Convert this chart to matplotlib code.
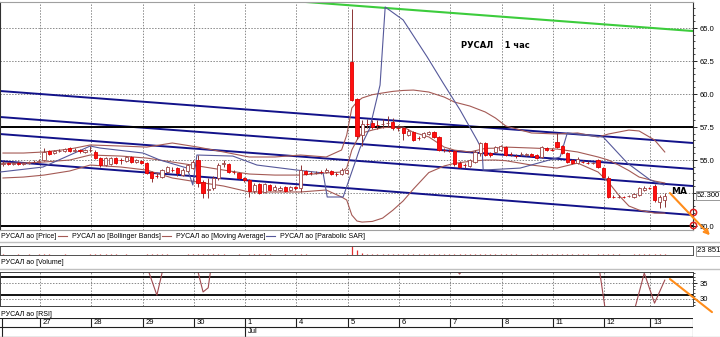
import matplotlib
matplotlib.use('Agg')
import matplotlib.pyplot as plt
import numpy as np
from matplotlib.lines import Line2D
import matplotlib.transforms as mtransforms

plt.rcParams['font.family'] = ['Liberation Sans Narrow', 'Liberation Sans', 'DejaVu Sans']

# ---- hourly candles, bar index 0 = first bar of the 27th ----
bars = list(range(-8, 122))
opens = [54.70, 54.77, 54.70, 54.77, 54.70, 54.77, 54.85, 54.85,
         55.00, 55.68, 55.53, 55.68, 55.68, 55.91, 55.68, 55.74, 55.61, 55.76,
         55.61, 55.15, 54.62, 54.70, 55.15, 55.00, 54.92, 55.23, 54.85, 54.92,
         54.77, 54.09, 53.79, 53.71, 54.09, 54.24, 54.39, 53.86, 54.17, 54.39,
         55.00, 53.33, 52.73, 52.88, 53.64, 54.70, 54.70, 54.09, 54.02, 53.64,
         53.48, 52.65, 53.18, 52.58, 53.11, 52.73, 52.73, 52.95, 52.73, 52.95,
         52.88, 54.17, 54.02, 54.02, 54.09, 54.09, 54.17, 53.94, 53.94, 54.02,
         62.42, 59.62, 56.89, 57.73, 57.80, 57.65, 57.73, 57.80, 57.88, 57.42,
         57.42, 56.89, 57.12, 56.67, 56.74, 56.97, 57.12, 56.74, 55.76, 55.68,
         55.68, 54.77, 54.62, 54.55, 54.85, 55.53, 56.29, 55.53, 55.61, 55.76,
         55.98, 55.45, 55.30, 55.45, 55.38, 55.45, 55.38, 55.23, 55.91, 55.76,
         56.36, 56.06, 55.53, 55.00, 54.77, 54.85, 54.77, 54.77, 55.00, 54.39,
         53.64, 52.20, 52.20, 52.20, 52.27, 52.20, 52.35, 52.73, 52.88,
         53.03, 51.82, 51.97]
highs = [54.92, 54.85, 54.85, 54.92, 54.85, 54.92, 55.00, 55.08,
         55.91, 55.76, 55.76, 55.83, 55.91, 55.98, 55.91, 55.83, 55.83, 56.06,
         55.76, 55.23, 55.23, 55.23, 55.23, 55.15, 55.30, 55.30, 55.08, 55.00,
         54.85, 54.17, 54.02, 54.32, 54.55, 54.47, 54.47, 54.39, 54.70, 55.00,
         55.38, 53.48, 53.64, 53.79, 54.77, 55.00, 54.77, 54.24, 54.09, 53.71,
         53.56, 53.26, 53.26, 53.26, 53.18, 53.11, 53.03, 53.03, 53.03, 53.03,
         54.62, 54.24, 54.17, 54.17, 54.24, 54.39, 54.24, 54.09, 54.39, 54.32,
         66.44, 59.70, 58.03, 58.11, 58.03, 58.03, 58.11, 58.33, 58.18, 57.65,
         57.50, 57.35, 57.20, 56.82, 57.12, 57.20, 57.20, 56.82, 55.91, 55.83,
         55.76, 54.92, 54.77, 55.08, 55.76, 56.36, 56.36, 55.61, 56.06, 56.14,
         56.06, 55.61, 55.45, 55.61, 55.53, 55.53, 55.45, 56.06, 55.98, 55.91,
         57.05, 56.14, 55.61, 55.08, 55.23, 55.00, 54.92, 54.85, 55.08, 54.47,
         53.79, 52.35, 52.35, 52.27, 52.35, 52.50, 52.95, 53.03, 52.95,
         53.18, 52.35, 52.50]
lows = [54.55, 54.62, 54.62, 54.62, 54.62, 54.70, 54.77, 54.77,
        54.92, 55.38, 55.45, 55.61, 55.61, 55.61, 55.61, 55.53, 55.53, 55.61,
        55.08, 54.47, 54.55, 54.62, 54.70, 54.70, 54.85, 54.77, 54.77, 54.70,
        53.94, 53.33, 53.64, 53.64, 54.02, 54.09, 53.79, 53.79, 54.09, 54.32,
        52.95, 52.12, 52.12, 52.73, 53.48, 54.47, 54.02, 53.94, 53.56, 53.33,
        52.20, 52.50, 52.42, 52.50, 52.65, 52.65, 52.65, 52.58, 52.65, 52.73,
        52.58, 53.86, 53.86, 53.94, 53.94, 54.02, 53.86, 53.79, 53.86, 53.94,
        59.50, 56.59, 56.06, 57.42, 57.35, 57.35, 57.42, 57.50, 57.27, 57.20,
        56.52, 56.82, 56.44, 56.52, 56.67, 56.89, 56.67, 55.68, 55.61, 55.61,
        54.55, 54.39, 54.39, 54.47, 54.77, 55.30, 55.30, 55.23, 55.53, 55.68,
        55.30, 55.30, 55.15, 55.30, 55.30, 55.23, 55.08, 55.15, 55.68, 55.68,
        55.91, 55.45, 54.77, 54.70, 54.70, 54.77, 54.70, 54.70, 54.39, 53.64,
        52.12, 52.12, 52.12, 52.12, 52.20, 52.12, 52.27, 52.65, 52.80,
        51.82, 51.36, 51.44]
closes = [54.77, 54.70, 54.77, 54.70, 54.77, 54.85, 54.87, 54.92,
          55.61, 55.45, 55.68, 55.70, 55.83, 55.68, 55.74, 55.70, 55.76, 55.76,
          55.15, 54.62, 55.15, 55.15, 54.77, 54.98, 55.23, 54.85, 55.00, 54.77,
          54.02, 53.64, 53.77, 54.24, 54.47, 54.22, 54.02, 54.24, 54.62, 54.85,
          53.26, 52.50, 52.80, 53.64, 54.62, 54.77, 54.09, 54.07, 53.64, 53.48,
          52.65, 53.11, 52.50, 53.18, 52.73, 52.95, 52.88, 52.65, 52.95, 52.88,
          54.24, 53.94, 54.00, 54.04, 54.07, 54.24, 53.94, 53.92, 54.24, 54.24,
          59.55, 56.82, 57.73, 57.71, 57.50, 57.63, 57.75, 57.82, 57.42, 57.40,
          57.05, 57.20, 56.52, 56.65, 57.05, 57.12, 56.74, 55.76, 55.74, 55.66,
          54.70, 54.47, 54.60, 55.00, 55.61, 56.29, 55.38, 55.38, 55.98, 56.06,
          55.38, 55.43, 55.28, 55.47, 55.45, 55.30, 55.15, 55.98, 55.76, 55.74,
          55.98, 55.53, 54.85, 54.77, 55.08, 54.83, 54.75, 54.79, 54.47, 53.71,
          52.20, 52.18, 52.22, 52.18, 52.29, 52.42, 52.88, 52.88, 52.86,
          51.97, 52.20, 52.30]
volume = [1400, 1100, 900, 1300, 1000, 1200, 900, 1600,
          2600, 1500, 1100, 900, 1300, 1000, 900, 800, 1100, 1200,
          2400, 2000, 1500, 1300, 1200, 900, 1400, 1100, 900, 1000,
          2800, 2200, 1300, 1500, 1400, 900, 1100, 1000, 1300, 1500,
          3000, 2400, 1800, 1600, 2000, 1200, 1100, 900, 1300, 1100,
          2600, 1900, 1500, 1700, 1200, 1000, 1100, 1300, 900, 1200,
          2900, 1400, 1000, 900, 800, 900, 1000, 1100, 900, 1300,
          180000, 11000, 5200, 2600, 2400, 1900, 1800, 2500, 2100, 1700,
          2600, 1800, 2200, 1400, 1500, 1300, 1600, 2400, 1800, 1500,
          2500, 1900, 1600, 2100, 2600, 2800, 1900, 1500, 2200, 1700,
          2000, 1500, 1200, 1100, 1000, 1200, 1300, 2300, 1400, 1300,
          2600, 1900, 2400, 1700, 1500, 1300, 1200, 1100, 1700, 2600,
          3000, 1300, 1200, 1100, 1000, 1500, 2100, 1400, 1200,
          2800, 2600, 2385]

# Bollinger bands / moving average, sampled along the bars
bb_x = [-8, -4, 0, 5, 9, 15, 20, 25, 30, 35, 40, 45, 50, 55, 58, 59, 60, 61, 62, 64,
        66, 68, 70, 72, 75, 78, 80, 83, 86, 88, 90, 95, 100, 104, 108, 110, 112, 114,
        116, 119, 121]
bb_upper = [55.53, 55.53, 55.61, 55.83, 56.14, 56.06, 55.98, 56.29, 55.98, 55.61, 55.23,
            55.23, 55.38, 55.23, 55.76, 56.89, 58.94, 59.40, 59.70, 59.95, 60.08, 60.20,
            60.27, 60.30, 60.15, 59.77, 59.39, 59.09, 58.64, 58.18, 57.58, 57.05, 56.97,
            57.05, 56.74, 56.97, 57.12, 57.27, 57.20, 56.52, 55.61]
bb_lower = [53.64, 53.71, 53.86, 54.17, 54.62, 54.47, 54.24, 53.64, 53.33, 53.03, 52.58,
            52.58, 52.58, 52.73, 52.20, 51.97, 50.83, 50.38, 50.30, 50.35, 50.60, 51.20,
            51.90, 52.80, 54.05, 54.55, 54.75, 54.90, 55.00, 55.00, 54.95, 54.62, 54.39,
            54.77, 54.09, 53.33, 52.35, 51.52, 51.21, 50.98, 50.98]
ma_vals = [54.77, 54.77, 54.85, 55.00, 55.38, 55.30, 55.15, 54.85, 54.55, 54.24, 53.94,
           53.86, 53.86, 54.02, 54.09, 54.39, 55.76, 56.52, 57.05, 57.27, 57.45, 57.50,
           57.50, 57.10, 56.75, 55.98, 55.75, 55.61, 55.88, 55.90, 55.98, 55.91, 55.83,
           55.61, 55.23, 55.00, 54.62, 54.20, 53.71, 53.41, 53.26]

# Parabolic SAR
sar_x = [-8.6, -0.2, 9.0, 10.9, 19.3, 22.6, 27.9, 29.0, 29.8, 36.8, 41.5, 49.3, 54.4,
         55.2, 58.3, 61.6, 63.5, 65.5, 66.5, 70.0, 74.7, 77.8, 81.1, 84.4, 85.4, 85.6,
         92.8, 100.6, 102.0, 109.0, 113.7, 118.2, 120.8]
sar_vals = [54.09, 54.47, 56.06, 55.91, 55.53, 55.00, 54.39, 53.11, 55.38, 55.30, 54.62,
            54.24, 54.02, 52.20, 52.20, 55.91, 57.42, 60.68, 66.59, 65.61, 62.80, 60.83,
            58.79, 56.52, 55.76, 54.24, 54.39, 55.23, 57.05, 56.74, 54.77, 53.48, 53.11]

# RSI (only the parts inside the narrow window are visible)
rsi_x = [-8, 19, 22, 24, 29, 31, 32, 33, 80, 81, 82, 108, 110, 114, 117, 119, 121]
rsi_vals = [45, 45, 31.2, 45, 45, 32.2, 33.5, 45, 40, 37.8, 40, 42, 20, 20, 38.1, 28.7, 35.9]

# drawn trend lines (start / end of the visible window)
trend_x = [-8.58, 126.5]
trend_lines = [[60.23, 56.29], [58.26, 54.32], [56.97, 53.03], [54.92, 50.83]]
green_x = [48, 126.5]
green_vals = [67.06, 64.77]
level_lines = [57.5, 50.0]
circle_vals = [51.06, 50.08]
arrow_price = [(122.0, 52.5), (129.8, 49.3)]
arrow_rsi = [(122.0, 36.25), (130.2, 25.9)]

day_start = [0, 10, 20, 30, 40, 50, 60, 70, 80, 90, 100, 110, 119]
day_labels = ['27', '28', '29', '30', '1', '4', '5', '6', '7', '8', '11', '12', '13']
last_price = 52.30

W, H = 720, 337
fig = plt.figure(figsize=(W / 100, H / 100), dpi=100)


def add_px(x0, y0, x1, y1):
    return fig.add_axes([x0 / W, 1 - y1 / H, (x1 - x0) / W, (y1 - y0) / H])


XL = (-8.58, 126.5)
bounds = [d - 0.8 for d in day_start]
grid_kw = dict(color='#8a8a8a', lw=0.7, ls=(0, (1.5, 1.5)))

# ---------------- main price panel ----------------
ax = add_px(0, 2, 693, 230)
ax.set_xlim(*XL)
ax.set_ylim(49.70, 66.97)
for b in bounds:
    ax.axvline(b, zorder=0, **grid_kw)
for g in [50, 52.5, 55, 57.5, 60, 62.5, 65]:
    ax.axhline(g, zorder=0, **grid_kw)

for tl in trend_lines:
    ax.plot(trend_x, tl, color='#12128a', lw=1.4, zorder=2)
ax.plot(green_x, green_vals, color='#3ccc3c', lw=1.5, zorder=2)
for lv in level_lines:
    ax.axhline(lv, color='black', lw=1.4, zorder=2)

ax.plot(bb_x, bb_upper, color='#a45a55', lw=0.8, zorder=3)
ax.plot(bb_x, bb_lower, color='#a45a55', lw=0.8, zorder=3)
ax.plot(bb_x, ma_vals, color='#a45a55', lw=0.8, zorder=3)
ax.plot(sar_x, sar_vals, color='#55589a', lw=0.8, zorder=3)

o = np.array(opens)
hi = np.array(highs)
lo = np.array(lows)
c = np.array(closes)
xb = np.array(bars)
up = c >= o
ax.vlines(xb, lo, hi, color='#8c3434', lw=0.7, zorder=4)
body_bottom = np.minimum(o, c)
body_h = np.maximum(np.abs(c - o), 0.03)
ax.bar(xb[up], body_h[up], bottom=body_bottom[up], width=0.62,
       color='white', edgecolor='#9a4444', linewidth=0.6, zorder=5)
ax.bar(xb[~up], body_h[~up], bottom=body_bottom[~up], width=0.62,
       color='#ff1010', edgecolor='#e00000', linewidth=0.6, zorder=5)

ax.plot([XL[1]] * 2, circle_vals, ls='none', marker='o', ms=4.5, mfc='none',
        mec='#e02020', mew=1.1, clip_on=False, zorder=8)
ax.annotate('', xy=arrow_price[1], xytext=arrow_price[0],
            arrowprops=dict(arrowstyle='->', color='#ff8c1a', lw=1.5,
                            mutation_scale=8, shrinkA=0, shrinkB=0),
            annotation_clip=False, zorder=9)
ax.text(122.3, 52.65, 'MA', fontsize=6.5, fontweight='bold', family='DejaVu Sans',
        va='center', ha='left', zorder=9)
ax.text(81.3, 63.64, 'РУСАЛ    1 час', fontsize=6, fontweight='bold', family='DejaVu Sans',
        va='center', ha='left')

ax.yaxis.tick_right()
ax.set_yticks([50, 52.5, 55, 57.5, 60, 62.5, 65])
ax.set_yticklabels(['50.0', '', '55.0', '57.5', '60.0', '62.5', '65.0'])
ax.set_yticks(np.arange(50, 67, 0.5), minor=True)
ax.tick_params(axis='y', which='major', length=3, width=0.6, pad=1.5, labelsize=5.5,
               left=True, direction='out')
ax.tick_params(axis='y', which='minor', length=1.5, width=0.5, left=True)
ax.set_xticks([])
for s in ['top', 'bottom']:
    ax.spines[s].set_color('#a0a0a0')
ax.spines['right'].set_color('#303030')
ax.spines['left'].set_color('#303030')
for s in ax.spines.values():
    s.set_linewidth(0.8)
blend = mtransforms.blended_transform_factory(ax.transAxes, ax.transData)
ax.text(1.006, last_price, '%.3f' % last_price, transform=blend, fontsize=5.5,
        va='center', ha='left',
        bbox=dict(boxstyle='square,pad=0.15', fc='white', ec='#888888', lw=0.6))

# legend row
ly = 1 - 236 / H
fig.text(1 / W, ly, 'РУСАЛ ао [Price]', fontsize=5, va='center')
leg_items = [(58, '#a45a55', 'РУСАЛ ао [Bollinger Bands]'),
             (162, '#a45a55', 'РУСАЛ ао [Moving Average]'),
             (266, '#55589a', 'РУСАЛ ао [Parabolic SAR]')]
for lx, col, txt in leg_items:
    fig.add_artist(Line2D([lx / W, (lx + 9) / W], [ly, ly], color=col, lw=0.8))
    fig.text((lx + 14) / W, ly, txt, fontsize=5, va='center')

for sy in [242, 269, 336.5]:
    fig.add_artist(Line2D([0, 1], [1 - sy / H] * 2, color='#c0c0c0', lw=1.0))

# ---------------- volume panel ----------------
axv = add_px(0, 246, 693, 255)
axv.set_xlim(*XL)
axv.set_ylim(0, 20000)
axv.vlines(xb, 0, volume, color='#e03030', lw=0.9)
axv.set_xticks([])
axv.set_yticks([])
for s in axv.spines.values():
    s.set_color('#505050')
    s.set_linewidth(0.7)
axv.text(1.006, 0.45, '23 851', transform=axv.transAxes, fontsize=5.5, va='center',
         ha='left', bbox=dict(boxstyle='square,pad=0.15', fc='white', ec='#888888', lw=0.6))
fig.text(1 / W, 1 - 263 / H, 'РУСАЛ ао [Volume]', fontsize=5, va='center')

# ---------------- RSI panel ----------------
axr = add_px(0, 272, 693, 306)
axr.set_xlim(*XL)
axr.set_ylim(27.81, 38.44)
for b in bounds:
    axr.axvline(b, zorder=0, **grid_kw)
for g in [30, 35]:
    axr.axhline(g, zorder=0, **grid_kw)
axr.axhline(36.9, color='black', lw=1.3)
axr.axhline(31.25, color='black', lw=1.3)
axr.plot(rsi_x, rsi_vals, color='#a04a50', lw=0.8)
axr.annotate('', xy=arrow_rsi[1], xytext=arrow_rsi[0],
             arrowprops=dict(arrowstyle='-', color='#ff8c1a', lw=1.5,
                             shrinkA=0, shrinkB=0),
             annotation_clip=False)
axr.yaxis.tick_right()
axr.set_yticks([30, 35])
axr.set_yticks(np.arange(28, 39, 1), minor=True)
axr.tick_params(axis='y', which='major', length=3, width=0.6, pad=1.5, labelsize=5.5)
axr.tick_params(axis='y', which='minor', length=1.5, width=0.5)
axr.set_xticks([])
for s in axr.spines.values():
    s.set_color('#404040')
    s.set_linewidth(0.7)
fig.text(1 / W, 1 - 314 / H, 'РУСАЛ ао [RSI]', fontsize=5, va='center')

# ---------------- date axis ----------------
axd = add_px(0, 318, 693, 337)
axd.set_xlim(*XL)
axd.set_ylim(0, 2)
axd.axis('off')
for yy in [1.97, 1.05, 0.05]:
    axd.axhline(yy, color='#202020', lw=0.8)
axd.vlines(bounds, 1.05, 1.97, color='#202020', lw=0.8)
axd.vlines([bounds[4]], 0.05, 1.05, color='#202020', lw=0.8)
axd.vlines([-8.2], 0.05, 1.97, color='#202020', lw=0.8)
axd.vlines([XL[1]], 0.05, 1.97, color='#202020', lw=0.8)
for b, lab in zip(bounds, day_labels):
    axd.text(b + 0.5, 1.5, lab, fontsize=5.5, va='center', ha='left')
axd.text(bounds[4] + 0.5, 0.55, 'Jul', fontsize=5.5, va='center', ha='left')

fig.savefig('out.png', dpi=100)
